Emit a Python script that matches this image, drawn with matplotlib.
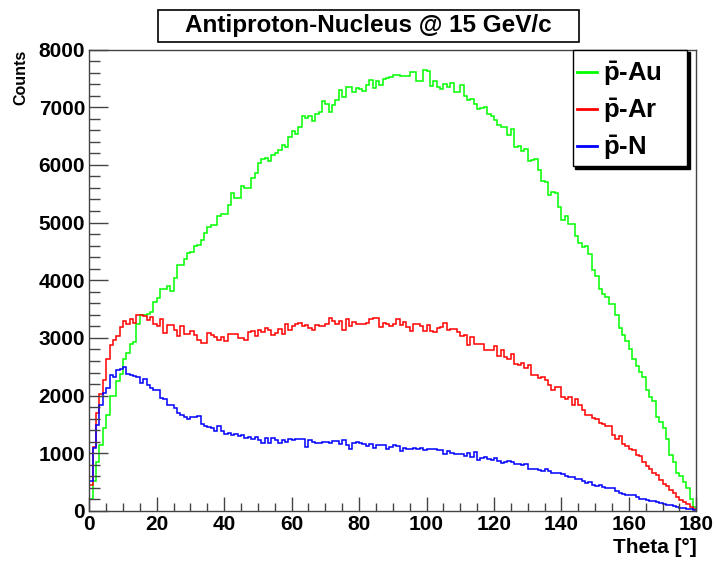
import matplotlib
matplotlib.use("Agg")
import matplotlib.pyplot as plt
from matplotlib.patches import Rectangle
from matplotlib.ticker import MultipleLocator
import numpy as np

# 1 degree bins, theta 0..180
edges = np.arange(0, 181, 1)

counts_au = [
    200, 520, 845, 1150, 1430, 1660, 1995, 2000, 2250, 2380,
    2635, 2740, 2900, 2930, 3250, 3390, 3400, 3420, 3450, 3620,
    3690, 3855, 3855, 3900, 3820, 4045, 4260, 4270, 4360, 4470,
    4490, 4590, 4605, 4705, 4820, 4925, 4955, 4955, 5110, 5145,
    5155, 5300, 5520, 5430, 5430, 5640, 5605, 5605, 5780, 5855,
    6030, 6105, 6115, 6070, 6165, 6200, 6255, 6350, 6315, 6475,
    6595, 6540, 6665, 6850, 6810, 6840, 6755, 6885, 6925, 7110,
    7060, 6910, 7040, 7120, 7290, 7170, 7345, 7345, 7255, 7330,
    7315, 7285, 7390, 7475, 7330, 7460, 7390, 7490, 7505, 7520,
    7550, 7550, 7545, 7535, 7535, 7610, 7610, 7460, 7450, 7650,
    7620, 7360, 7450, 7350, 7320, 7405, 7350, 7420, 7255, 7255,
    7380, 7190, 7120, 7140, 7060, 6975, 6985, 7000, 6885, 6840,
    6770, 6695, 6650, 6650, 6520, 6625, 6310, 6320, 6235, 6280,
    6060, 6090, 6100, 5920, 5720, 5710, 5470, 5525, 5510, 5265,
    5045, 5120, 4975, 4975, 4775, 4640, 4570, 4600, 4450, 4180,
    4080, 3840, 3760, 3715, 3590, 3590, 3395, 3165, 3050, 2945,
    2805, 2635, 2515, 2415, 2315, 2095, 1980, 1910, 1630, 1535,
    1440, 1255, 965, 850, 650, 610, 505, 390, 215, 70,
]

counts_ar = [
    445, 1110, 1690, 2035, 2265, 2630, 2885, 2960, 3035, 3190,
    3295, 3250, 3335, 3265, 3390, 3405, 3375, 3305, 3365, 3235,
    3200, 3335, 3090, 3220, 3220, 3130, 3035, 3210, 3065, 3075,
    3120, 3050, 2970, 2920, 2920, 3085, 3045, 3015, 2960, 3015,
    2940, 3065, 3065, 3075, 3005, 3005, 2965, 3095, 3120, 3040,
    3135, 3105, 3175, 3135, 3050, 3080, 3155, 3060, 3250, 3135,
    3210, 3235, 3265, 3210, 3225, 3175, 3135, 3225, 3210, 3210,
    3235, 3340, 3295, 3235, 3295, 3135, 3330, 3210, 3280, 3250,
    3240, 3240, 3265, 3320, 3350, 3350, 3195, 3265, 3250, 3210,
    3250, 3330, 3225, 3280, 3195, 3125, 3235, 3240, 3210, 3120,
    3225, 3125, 3095, 3165, 3195, 3265, 3130, 3155, 3155, 3095,
    3030, 3050, 2875, 3020, 2890, 2890, 2890, 2790, 2790, 2790,
    2865, 2690, 2790, 2675, 2635, 2730, 2540, 2530, 2570, 2485,
    2530, 2365, 2365, 2310, 2315, 2270, 2180, 2095, 2150, 2150,
    1980, 1950, 1980, 1835, 1950, 1835, 1750, 1660, 1660, 1605,
    1590, 1530, 1515, 1470, 1470, 1315, 1255, 1295, 1155, 1125,
    1080, 1065, 965, 955, 850, 775, 720, 650, 620, 545,
    475, 430, 370, 320, 245, 195, 155, 125, 70, 40,
]

counts_n = [
    515, 1100, 1485, 1845, 2050, 2135, 2350, 2325, 2450, 2470,
    2495, 2380, 2365, 2335, 2325, 2225, 2285, 2180, 2135, 2105,
    2105, 1960, 1950, 1845, 1830, 1790, 1705, 1660, 1630, 1600,
    1630, 1630, 1640, 1515, 1475, 1455, 1430, 1380, 1475, 1385,
    1340, 1350, 1310, 1340, 1300, 1315, 1265, 1285, 1255, 1285,
    1225, 1185, 1265, 1180, 1265, 1225, 1185, 1225, 1200, 1245,
    1225, 1255, 1255, 1255, 1110, 1225, 1200, 1185, 1185, 1200,
    1200, 1170, 1210, 1210, 1155, 1225, 1140, 1080, 1170, 1200,
    1180, 1155, 1130, 1155, 1095, 1140, 1140, 1140, 1070, 1110,
    1150, 1130, 1040, 1100, 1080, 1080, 1095, 1080, 1100, 1065,
    1080, 1080, 1070, 1065, 1055, 985, 1035, 1005, 995, 985,
    980, 950, 1010, 940, 1025, 880, 920, 940, 900, 880,
    920, 860, 840, 850, 860, 850, 820, 820, 805, 820,
    735, 735, 735, 705, 695, 720, 695, 665, 650, 660,
    635, 610, 590, 590, 560, 560, 520, 485, 505, 445,
    430, 455, 415, 390, 390, 390, 340, 310, 300, 270,
    285, 270, 245, 215, 215, 185, 175, 175, 155, 140,
    125, 100, 100, 80, 70, 60, 60, 40, 30, 25,
]

series = [counts_au, counts_ar, counts_n]
labels = [r"$\mathbf{\bar{p}}$-Au", r"$\mathbf{\bar{p}}$-Ar", r"$\mathbf{\bar{p}}$-N"]
colors = ["#00ff00", "#ff0000", "#0000ff"]

title = "Antiproton-Nucleus @ 15 GeV/c"
x_label = "Theta [°]"
y_label = "Counts"


def main():
    plt.rcParams["font.family"] = ["Liberation Sans", "DejaVu Sans"]
    plt.rcParams["font.weight"] = "bold"
    plt.rcParams["mathtext.fontset"] = "custom"
    plt.rcParams["mathtext.rm"] = "Liberation Sans:bold"
    plt.rcParams["mathtext.bf"] = "Liberation Sans:bold"

    fig = plt.figure(figsize=(7.16, 5.64), dpi=100)
    ax = fig.add_axes([0.1247, 0.094, 0.9725 - 0.1247, 0.9122 - 0.094])

    for vals, lab, col in zip(series, labels, colors):
        ax.stairs(vals, edges, baseline=None, color=col, lw=1.1, label=lab)

    ax.set_xlim(0, 180)
    ax.set_ylim(0, 8000)
    ax.xaxis.set_major_locator(MultipleLocator(20))
    ax.xaxis.set_minor_locator(MultipleLocator(5))
    ax.yaxis.set_major_locator(MultipleLocator(1000))
    ax.yaxis.set_minor_locator(MultipleLocator(200))

    ax.tick_params(axis="both", which="both", direction="in", color="#444444",
                   width=1, labelsize=15, pad=3)
    ax.tick_params(axis="x", which="major", length=10)
    ax.tick_params(axis="x", which="minor", length=5.5)
    ax.tick_params(axis="y", which="major", length=14)
    ax.tick_params(axis="y", which="minor", length=7.7)
    for lab in ax.get_xticklabels() + ax.get_yticklabels():
        lab.set_fontweight("bold")
    for sp in ax.spines.values():
        sp.set_color("#444444")
        sp.set_linewidth(1)

    ax.set_xlabel(x_label, fontsize=15, fontweight="bold", ha="right")
    ax.xaxis.set_label_coords(1.0, -0.058)
    ax.set_ylabel(y_label, fontsize=11.5, fontweight="bold", ha="right")
    ax.yaxis.set_label_coords(-0.101, 1.0)

    # legend box with solid shadow, like ROOT's TLegend
    bx0, bx1, by0 = 0.7964, 0.9847, 0.7476
    ax.add_patch(Rectangle((bx0 + 0.0045, by0 - 0.006), bx1 - bx0, 1.0 - by0,
                           transform=ax.transAxes, facecolor="black",
                           edgecolor="black", zorder=3.9, clip_on=False))
    ax.add_patch(Rectangle((bx0, by0), bx1 - bx0, 1.0 - by0,
                           transform=ax.transAxes, facecolor="white",
                           edgecolor="black", lw=1, zorder=4, clip_on=False))
    leg = ax.legend(loc="center left", bbox_to_anchor=(0.803, 0.8678),
                    frameon=False, fontsize=18.5, handlelength=0.8,
                    handletextpad=0.22, labelspacing=0.33, borderpad=0,
                    borderaxespad=0)
    leg.set_zorder(5)
    for line in leg.get_lines():
        line.set_linewidth(2)

    # title box
    fig.add_artist(Rectangle((158.3 / 716, 1 - 41.7 / 564), 421.0 / 716, 31.7 / 564,
                             transform=fig.transFigure, facecolor="white",
                             edgecolor="black", lw=1.2))
    fig.text(0.5151, 0.9542, title, fontsize=17.5, fontweight="bold",
             ha="center", va="center")

    fig.savefig("out.png", dpi=100)


if __name__ == "__main__":
    main()
